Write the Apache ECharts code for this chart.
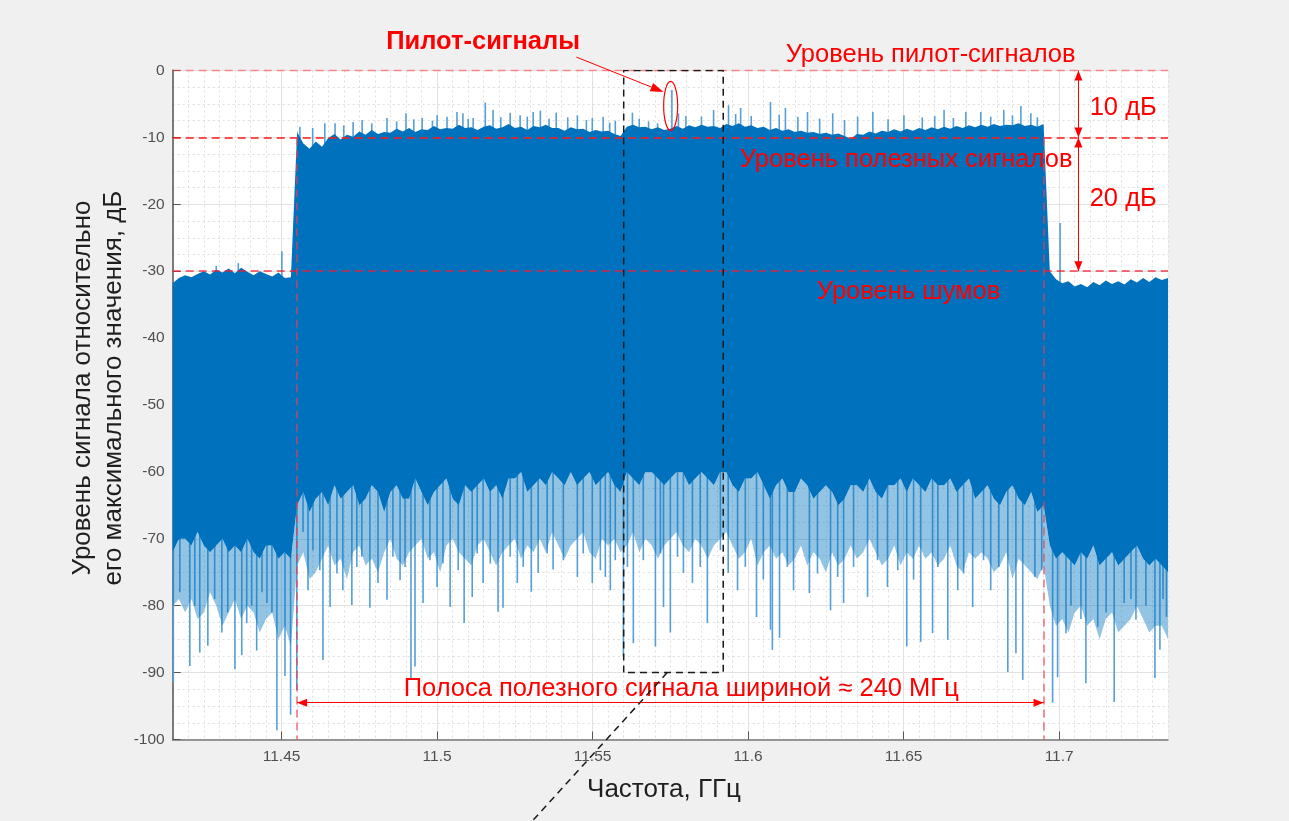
<!DOCTYPE html>
<html>
<head>
<meta charset="utf-8">
<title>Спектр сигнала</title>
<script src="https://cdn.jsdelivr.net/npm/echarts@6.0.0/dist/echarts.min.js"></script>
<style>
  html, body { margin: 0; padding: 0; background: #f0f0f0; }
  #chart { width: 1289px; height: 821px; }
</style>
</head>
<body>
<div id="chart"></div>
<script>
// envelope samples every 2 MHz starting at 11.415 GHz
const freqStart = 11.415;
const freqStep = 0.002;

// upper edge of the trace, dB
const upperDb = [
  -31.8, -31.0, -30.6, -30.9, -30.4, -30.0, -30.5, -29.8, -30.2, -29.6,
  -30.3, -29.5, -30.1, -30.6, -30.0, -30.4, -30.8, -30.2, -31.0, -30.9,
  -9.2, -10.9, -11.7, -10.6, -11.4, -10.1, -9.5, -10.3, -9.6, -9.9,
  -9.1, -9.6, -8.9, -9.5, -9.2, -9.3, -8.7, -9.1, -8.6, -9.2,
  -8.8, -8.9, -8.3, -8.8, -8.6, -8.7, -8.1, -8.6, -8.5, -8.9,
  -8.4, -8.2, -8.7, -8.5, -8.0, -8.6, -8.4, -8.9, -8.3, -8.5,
  -8.1, -8.6, -8.6, -9.0, -8.5, -8.8, -8.7, -9.2, -8.9, -9.1,
  -9.0, -9.5, -9.8, -8.4, -8.1, -8.5, -8.4, -8.8, -8.5, -8.9,
  -8.7, -8.3, -8.7, -8.2, -8.5, -8.1, -8.4, -8.3, -8.6, -8.0,
  -8.3, -7.9, -8.4, -8.2, -8.6, -8.4, -8.9, -8.6, -9.0, -8.8,
  -9.2, -9.0, -9.3, -9.2, -9.5, -9.3, -9.6, -9.4, -9.8, -10.2,
  -9.5, -9.6, -9.1, -9.4, -9.0, -9.2, -8.8, -9.1, -8.7, -9.0,
  -8.6, -8.9, -8.5, -8.8, -8.4, -8.7, -8.3, -8.6, -8.2, -8.5,
  -8.1, -8.4, -8.0, -8.3, -8.1, -8.2, -7.9, -8.3, -8.1, -8.4,
  -8.0,
  -30.0, -31.2, -31.8, -31.5, -32.3, -31.9, -32.4, -31.6, -32.1, -31.4,
  -31.9, -31.5, -32.0, -31.2, -31.7, -31.0, -31.6, -30.9, -31.3, -31.0
];

// lower edge of the dense (dark) part of the trace, dB
const lowerDb = [
  -72, -70, -70, -71, -69, -71, -72, -71, -70, -72,
  -71, -72, -70, -72, -73, -71, -71, -73, -72, -73,
  -65, -63, -66, -64, -63, -65, -62, -64, -63, -62,
  -65, -64, -62, -63, -66, -63, -62, -64, -64, -61,
  -63, -65, -63, -62, -61, -64, -65, -62, -63, -62,
  -61, -63, -62, -64, -61, -61, -60, -63, -62, -61,
  -62, -60, -61, -62, -60, -62, -61, -60, -62, -61,
  -60, -62, -63, -60, -61, -62, -60, -60, -61, -62,
  -61, -60, -60, -62, -61, -60, -61, -62, -60, -60,
  -62, -63, -61, -61, -60, -62, -64, -62, -61, -63,
  -63, -61, -62, -64, -63, -62, -63, -65, -64, -62,
  -62, -63, -61, -63, -64, -62, -62, -61, -63, -61,
  -62, -63, -61, -62, -62, -61, -63, -62, -61, -64,
  -63, -62, -64, -65, -63, -62, -64, -65, -63, -66,
  -65,
  -71, -73, -72, -73, -74, -72, -73, -71, -74, -73,
  -72, -74, -73, -72, -71, -73, -74, -73, -74, -75
];

// lower edge of the sparse (lighter) fringe under the dense part, dB
const fringeDb = [
  -80, -79, -81, -79, -82, -81, -78, -80, -83, -81,
  -79, -82, -80, -81, -84, -82, -81, -85, -83, -86,
  -74, -72, -76, -75, -73, -71, -74, -73, -76, -72,
  -71, -74, -73, -75, -72, -70, -73, -74, -72, -71,
  -70, -73, -72, -75, -71, -70, -72, -73, -74, -71,
  -70, -72, -74, -72, -71, -70, -73, -71, -72, -70,
  -72, -69, -71, -73, -71, -70, -69, -72, -73, -70,
  -71, -70, -72, -71, -69, -72, -70, -71, -73, -71,
  -70, -69, -71, -72, -70, -71, -73, -71, -70, -69,
  -71, -73, -72, -70, -74, -72, -71, -73, -72, -74,
  -73, -71, -74, -72, -73, -75, -72, -74, -73, -71,
  -73, -72, -70, -72, -74, -73, -71, -74, -72, -73,
  -71, -73, -72, -74, -73, -71, -74, -75, -72, -73,
  -72, -73, -75, -74, -72, -76, -73, -74, -75, -76,
  -74,
  -80, -83, -82, -84, -81, -80, -83, -82, -85, -82,
  -81, -84, -83, -82, -80, -82, -84, -83, -83, -85
];

// single deep dips below the dense part: [GHz, dB]
const dipSpikes = [
  [11.4152, -91.5], [11.4173, -78], [11.4205, -89], [11.4221, -80], [11.4237, -87],
  [11.4263, -86], [11.4285, -79], [11.4308, -84], [11.4327, -81], [11.4350, -89.5],
  [11.4372, -87.4], [11.4388, -82.6], [11.4404, -80], [11.4420, -86.7], [11.4437, -78],
  [11.4453, -79.6], [11.4469, -81], [11.4485, -98.6], [11.4511, -90.5], [11.4529, -96.3],
  [11.4549, -92.6],
  [11.4569, -69], [11.4585, -77.7], [11.4601, -71.7], [11.4623, -74.7], [11.4633, -88.1],
  [11.4656, -80.2], [11.4678, -75.2], [11.4697, -77.7], [11.4726, -79.9], [11.4742, -74.2],
  [11.4758, -72.7], [11.4784, -80.3], [11.4810, -76.6], [11.4839, -79.1], [11.4858, -72.7],
  [11.4881, -76.2], [11.4897, -74.2], [11.4916, -90.8], [11.4929, -89.1], [11.4955, -79.6],
  [11.4977, -73.2], [11.5000, -77.2], [11.5019, -73.7], [11.5042, -80.2], [11.5068, -74.7],
  [11.5087, -82.6], [11.5113, -78.7], [11.5129, -72.2], [11.5148, -76.6], [11.5171, -73.7],
  [11.5196, -80.9], [11.5212, -80.3], [11.5235, -72.7], [11.5258, -76.6], [11.5277, -74.2],
  [11.5303, -77.9], [11.5325, -75.1], [11.5354, -72.2], [11.5373, -74.6], [11.5406, -73.2],
  [11.5451, -75.7], [11.5470, -72.2], [11.5499, -76.6], [11.5525, -74.7], [11.5541, -75.7],
  [11.5557, -77.7], [11.5573, -73.2], [11.5599, -87.6], [11.5612, -74.2], [11.5631, -85.6],
  [11.5663, -73.2], [11.5702, -86.1], [11.5718, -72.2], [11.5728, -80.2], [11.5750, -84],
  [11.5773, -72.7], [11.5792, -75.1], [11.5821, -76.6], [11.5846, -74.2], [11.5869, -82.6],
  [11.5911, -71.7], [11.5936, -75.1], [11.5966, -77.7], [11.5991, -74.2], [11.6027, -81.7],
  [11.6049, -76.1], [11.6072, -83.6], [11.6078, -86.6], [11.6101, -84.8], [11.6126, -74.2],
  [11.6146, -77.7], [11.6197, -78.1], [11.6223, -75.2], [11.6265, -80.7], [11.6288, -75.7],
  [11.6307, -79.6], [11.6339, -74.2], [11.6384, -78.7], [11.6416, -73.2], [11.6448, -77.2],
  [11.6481, -74.7], [11.6510, -86.1], [11.6532, -76.1], [11.6555, -85.4], [11.6593, -84.1],
  [11.6610, -74.2], [11.6642, -85.1], [11.6674, -77.7], [11.6693, -75.2], [11.6722, -80.2],
  [11.6757, -73.2], [11.6780, -77.7], [11.6806, -74.2], [11.6835, -89.9], [11.6861, -87.1],
  [11.6883, -91.1], [11.6922, -75.7], [11.6944, -74.7],
  [11.6979, -94.5], [11.6995, -90.7], [11.7022, -84.1], [11.7038, -80], [11.7070, -82],
  [11.7086, -91.6], [11.7124, -83.2], [11.7151, -81], [11.7177, -94.4], [11.7209, -79.6],
  [11.7231, -79], [11.7247, -82.1], [11.7279, -80], [11.7308, -90.8], [11.7324, -86.6],
  [11.7334, -79], [11.7345, -81.7]
];

// single peaks above the dense part: [GHz, dB]
const peakSpikes = [
  [11.4290, -29.2], [11.4361, -28.8], [11.4501, -27],
  [11.4559, -8.4], [11.4600, -8.6], [11.4639, -7.9], [11.4672, -7.9], [11.4700, -8.2],
  [11.4730, -7.7], [11.4759, -7.4], [11.4790, -7.9], [11.4839, -7.1], [11.4870, -7.6],
  [11.4900, -6.4], [11.4925, -7.3], [11.4952, -7.1], [11.4985, -7.5], [11.5000, -6.7],
  [11.5032, -6.9], [11.5064, -6.2], [11.5083, -6.4], [11.5100, -7.2], [11.5116, -7.1],
  [11.5155, -4.8], [11.5180, -5.9], [11.5205, -7.0], [11.5235, -6.3], [11.5267, -6.7],
  [11.5290, -6.9], [11.5309, -6.2], [11.5332, -6.0], [11.5360, -7.2], [11.5383, -6.3],
  [11.5420, -7.0], [11.5451, -6.7], [11.5480, -7.4], [11.5499, -7.1], [11.5534, -6.9],
  [11.5555, -7.8], [11.5573, -7.5], [11.5628, -6.3], [11.5650, -7.2], [11.5680, -7.6],
  [11.5709, -7.9], [11.5755, -2.9], [11.5776, -6.4], [11.5800, -6.8], [11.5850, -6.9],
  [11.5889, -5.9], [11.5937, -5.2], [11.5960, -6.5], [11.5976, -5.6], [11.6010, -6.8],
  [11.6072, -4.7], [11.6100, -6.6], [11.6120, -5.6], [11.6160, -6.9], [11.6191, -6.2],
  [11.6230, -7.2], [11.6272, -6.4], [11.6310, -7.4], [11.6352, -6.9], [11.6401, -6.2],
  [11.6450, -7.3], [11.6501, -6.7], [11.6560, -7.0], [11.6600, -6.8], [11.6630, -5.9],
  [11.6660, -7.1], [11.6700, -6.2], [11.6748, -6.2], [11.6780, -6.9], [11.6822, -5.9],
  [11.6850, -6.7], [11.6877, -5.3], [11.6909, -6.4], [11.6930, -7.0],
  [11.7003, -22.8]
];

const xTicks = [11.45, 11.5, 11.55, 11.6, 11.65, 11.7];
const bandEdges = [11.455, 11.695];
const pilotLevel = 0;
const usefulLevel = -10;
const noiseLevel = -30;
const bandArrowDb = -94.5;
const levelArrowFreq = 11.7062;
const zoomBox = [[11.56, -90], [11.56, 0], [11.592, 0], [11.592, -90], [11.56, -90]];

const FONT = '"Liberation Sans", Arial, sans-serif';
const BLUE = '#0072BD';
const FRINGE = 'rgba(0,114,189,0.42)';
const LIGHT_BLUE = '#559fd6';
const RED = '#ff0000';

const freqs = upperDb.map((_, i) => +(freqStart + i * freqStep).toFixed(3));
const envRows = freqs.map((f, i) => [f, fringeDb[i], lowerDb[i], upperDb[i]]);

// whole band between two envelope columns drawn as one polygon
const areaRenderer = (loDim, hiDim, fill) => (params, api) => {
  if (params.dataIndex !== 0) return null;
  const top = envRows.map(r => api.coord([r[0], r[hiDim]]));
  const bottom = envRows.map(r => api.coord([r[0], r[loDim]])).reverse();
  return {
    type: 'polygon',
    shape: { points: top.concat(bottom) },
    style: { fill: fill }
  };
};

function renderSpike(params, api) {
  const a = api.coord([api.value(0), api.value(1)]);
  const b = api.coord([api.value(0), api.value(2)]);
  return {
    type: 'line',
    shape: { x1: a[0], y1: a[1], x2: b[0], y2: b[1] },
    style: { stroke: LIGHT_BLUE, lineWidth: 1.6 }
  };
}

const redDash = (color, width) => ({ color: color, width: width, type: [8, 5] });
const arrowEnd = { symbol: 'triangle', symbolSize: [8, 10], symbolOffset: [0, 5] };
const arrowLine = { color: RED, width: 1, type: 'solid' };

const chart = echarts.init(document.getElementById('chart'));
chart.setOption({
  animation: false,
  backgroundColor: '#f0f0f0',
  textStyle: { fontFamily: FONT },
  grid: {
    left: 172.7, top: 70.5, width: 995.3, height: 669,
    show: true, backgroundColor: '#ffffff', borderWidth: 0
  },
  xAxis: [
    {
      type: 'value', position: 'top', min: 11.415, max: 11.735, interval: 0.005,
      axisLine: { show: false }, axisTick: { show: false }, axisLabel: { show: false },
      splitLine: { show: true, lineStyle: { color: '#dedede', width: 1, type: [2, 3] } }
    },
    {
      type: 'value', position: 'bottom', min: 11.415, max: 11.735,
      axisLine: { show: true, lineStyle: { color: '#7a7a7a', width: 1.5 } },
      axisTick: { show: true, inside: true, length: 8, customValues: xTicks, lineStyle: { color: '#555' } },
      axisLabel: { customValues: xTicks, color: '#505050', fontSize: 15.5, margin: 9 },
      splitLine: { show: true, lineStyle: { color: '#e2e2e2', width: 1 } }
    }
  ],
  yAxis: {
    type: 'value', min: -100, max: 0, interval: 10,
    axisLine: { show: true, lineStyle: { color: '#6e6e6e', width: 1.8 } },
    axisTick: { show: true, inside: true, length: 8, lineStyle: { color: '#555' } },
    axisLabel: { color: '#505050', fontSize: 15.5, margin: 8 },
    splitLine: { show: true, lineStyle: { color: '#e2e2e2', width: 1 } },
    minorTick: { show: false, splitNumber: 4 },
    minorSplitLine: { show: true, lineStyle: { color: '#dedede', width: 1, type: [2, 3] } }
  },
  series: [
    {
      name: 'dips', type: 'custom', xAxisIndex: 0, z: 1, silent: true,
      renderItem: renderSpike, encode: { x: 0, y: [1, 2] },
      data: dipSpikes.map(d => [d[0], -55, d[1]])
    },
    {
      name: 'peaks', type: 'custom', xAxisIndex: 0, z: 1, silent: true,
      renderItem: renderSpike, encode: { x: 0, y: [1, 2] },
      data: peakSpikes.map(d => [d[0], -35, d[1]])
    },
    {
      name: 'fringe', type: 'custom', xAxisIndex: 0, z: 2, silent: true,
      renderItem: areaRenderer(1, 2, FRINGE), encode: { x: 0, y: [1, 2, 3] },
      data: envRows
    },
    {
      name: 'spectrum', type: 'custom', xAxisIndex: 0, z: 3, silent: true,
      renderItem: areaRenderer(2, 3, BLUE), encode: { x: 0, y: [1, 2, 3] },
      data: envRows
    },
    {
      name: 'notes', type: 'line', xAxisIndex: 0, z: 5, silent: true, symbol: 'none',
      lineStyle: { color: '#1a1a1a', width: 1.5, type: [7, 5] },
      data: zoomBox,
      markLine: {
        silent: true, symbol: 'none', animation: false, label: { show: false },
        data: [
          { yAxis: pilotLevel, lineStyle: redDash('rgba(255,60,60,0.55)', 1.3) },
          { yAxis: usefulLevel, lineStyle: redDash('#ff1a1a', 1.5) },
          { yAxis: noiseLevel, lineStyle: redDash('rgba(240,30,50,0.85)', 1.5) },
          [{ coord: [bandEdges[0], usefulLevel], lineStyle: redDash('rgba(240,60,80,0.75)', 1.5) },
           { coord: [bandEdges[0], -100] }],
          [{ coord: [bandEdges[1], usefulLevel], lineStyle: redDash('rgba(240,60,80,0.75)', 1.5) },
           { coord: [bandEdges[1], -100] }],
          [Object.assign({ coord: [bandEdges[0], bandArrowDb], lineStyle: arrowLine }, arrowEnd),
           Object.assign({ coord: [bandEdges[1], bandArrowDb] }, arrowEnd)],
          [Object.assign({ coord: [levelArrowFreq, pilotLevel], lineStyle: arrowLine }, arrowEnd),
           Object.assign({ coord: [levelArrowFreq, usefulLevel] }, arrowEnd)],
          [Object.assign({ coord: [levelArrowFreq, usefulLevel], lineStyle: arrowLine }, arrowEnd),
           Object.assign({ coord: [levelArrowFreq, noiseLevel] }, arrowEnd)]
        ]
      }
    }
  ]
});

// annotations placed in data coordinates
const toPx = p => chart.convertToPixel({ xAxisIndex: 0, yAxisIndex: 0 }, p);
const textEl = (txt, p, size, bold) => {
  const q = toPx(p);
  return {
    type: 'text', x: q[0], y: q[1], z: 100, silent: true,
    style: {
      text: txt, fill: RED, align: 'center', verticalAlign: 'middle',
      font: (bold ? 'bold ' : '') + size + 'px ' + FONT
    }
  };
};

const arrowFrom = toPx([11.5448, 2.0]);
const arrowTo = toPx([11.5728, -3.2]);
const ang = Math.atan2(arrowTo[1] - arrowFrom[1], arrowTo[0] - arrowFrom[0]);
const headLen = 13, headW = 4.5;
const hb = [arrowTo[0] - headLen * Math.cos(ang), arrowTo[1] - headLen * Math.sin(ang)];
const head = [
  arrowTo,
  [hb[0] + headW * Math.sin(ang), hb[1] - headW * Math.cos(ang)],
  [hb[0] - headW * Math.sin(ang), hb[1] + headW * Math.cos(ang)]
];
const ell = toPx([11.5751, -5.3]);
const diagA = toPx([11.5740, -90.0]);
const diagB = toPx([11.5306, -112.2]);

chart.setOption({
  graphic: [
    textEl('Пилот-сигналы', [11.5148, 4.26], 25.5, true),
    textEl('Уровень пилот-сигналов', [11.6587, 2.3], 25.5),
    textEl('Уровень полезных сигналов', [11.6508, -13.4], 25.5),
    textEl('Уровень шумов', [11.6516, -33.1], 25.5),
    textEl('10 дБ', [11.7206, -5.6], 25.5),
    textEl('20 дБ', [11.7206, -19.2], 25.5),
    textEl('Полоса полезного сигнала шириной ≈ 240 МГц', [11.5785, -92.45], 25.5),
    {
      type: 'line', z: 100, silent: true,
      shape: { x1: arrowFrom[0], y1: arrowFrom[1], x2: hb[0], y2: hb[1] },
      style: { stroke: RED, lineWidth: 1 }
    },
    { type: 'polygon', z: 100, silent: true, shape: { points: head }, style: { fill: RED } },
    {
      type: 'ellipse', z: 100, silent: true,
      shape: { cx: ell[0], cy: ell[1], rx: 7, ry: 24.5 },
      style: { fill: 'none', stroke: RED, lineWidth: 1.2 }
    },
    {
      type: 'line', z: 100, silent: true,
      shape: { x1: diagA[0], y1: diagA[1], x2: diagB[0], y2: diagB[1] },
      style: { stroke: '#1a1a1a', lineWidth: 1.5, lineDash: [7, 5] }
    },
    {
      type: 'text', x: 98.5, y: 388, rotation: Math.PI / 2, z: 100, silent: true,
      style: {
        text: 'Уровень сигнала относительно\nего максимального значения, дБ',
        fill: '#1f1f1f', align: 'center', verticalAlign: 'middle',
        font: '26px ' + FONT, lineHeight: 31
      }
    },
    {
      type: 'text', x: 664, y: 790, z: 100, silent: true,
      style: {
        text: 'Частота, ГГц', fill: '#1f1f1f', align: 'center', verticalAlign: 'middle',
        font: '26px ' + FONT
      }
    }
  ]
});
</script>
</body>
</html>
